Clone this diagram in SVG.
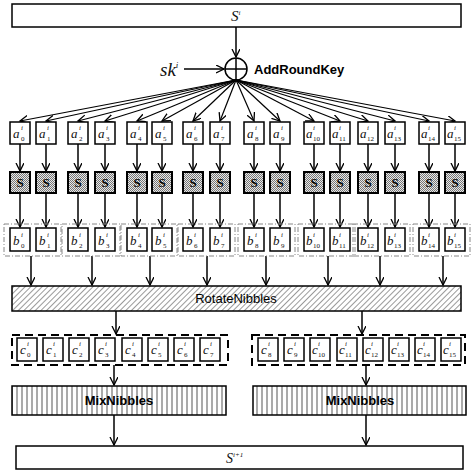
<svg xmlns="http://www.w3.org/2000/svg" width="474" height="474" viewBox="0 0 474 474">
<style>
.box{fill:#fff;stroke:#000;stroke-width:1.5}
.sbox{fill:url(#checker);stroke:#000;stroke-width:2}
.ln{stroke:#000;stroke-width:1.5;fill:none}
.fan{stroke:#000;stroke-width:1.2;fill:none}
.var{font-family:"Liberation Serif",serif;font-style:italic;font-size:13px;fill:#111}
.sup{font-family:"Liberation Serif",serif;font-style:italic;font-size:7px;fill:#111}
.sub{font-family:"Liberation Serif",serif;font-size:7px;fill:#111}
.st{font-family:"Liberation Serif",serif;font-weight:bold;font-size:13px;text-anchor:middle;fill:#000}
.grp{fill:none;stroke:#888;stroke-width:1;stroke-dasharray:5 2 1 2}
.cgrp{fill:none;stroke:#000;stroke-width:2;stroke-dasharray:8 5}
.bold{font-family:"Liberation Sans",Arial,sans-serif;font-weight:bold;font-size:13px}
</style>
<defs>
<pattern id="checker" width="2" height="2" patternUnits="userSpaceOnUse">
<rect width="2" height="2" fill="#e8e8e8"/>
<rect width="1" height="1" fill="#777"/>
<rect x="1" y="1" width="1" height="1" fill="#777"/>
</pattern>
<pattern id="diag" width="4" height="4" patternUnits="userSpaceOnUse" patternTransform="rotate(45)">
<rect width="4" height="4" fill="#fff"/>
<line x1="0" y1="0" x2="0" y2="4" stroke="#555" stroke-width="1.2"/>
</pattern>
<pattern id="vert" width="5" height="10" patternUnits="userSpaceOnUse">
<rect width="5" height="10" fill="#fff"/>
<line x1="2" y1="0" x2="2" y2="10" stroke="#555" stroke-width="1"/>
</pattern>
<marker id="ah" markerWidth="10" markerHeight="10" refX="8" refY="4" orient="auto" markerUnits="userSpaceOnUse">
<path d="M0,0 L8,4 L0,8" fill="none" stroke="#000" stroke-width="1.3"/>
</marker>
</defs>

<g id="Si">
<rect x="12" y="4" width="449" height="23" class="box"/>
<text x="231" y="21" class="var" style="font-size:15px">S<tspan class="sup" dy="-6">i</tspan></text>
</g>

<g id="xor">
<circle cx="236" cy="69" r="11" class="box"/>
<line x1="225" y1="69" x2="247" y2="69" class="ln"/>
<line x1="236" y1="58" x2="236" y2="80" class="ln"/>
</g>
<g id="ski">
<text x="160" y="76" class="var" style="font-size:19px">sk<tspan style="font-size:9px" dy="-8">i</tspan></text>
</g>
<g id="addroundkey"><text x="254" y="74" class="bold">AddRoundKey</text></g>

<g id="connectors">
<line x1="236" y1="27" x2="236" y2="57" class="ln" marker-end="url(#ah)"/>
<line x1="184" y1="69" x2="224" y2="69" class="ln" marker-end="url(#ah)"/>
<line x1="236" y1="80" x2="20" y2="121" class="fan" marker-end="url(#ah)"/>
<line x1="236" y1="80" x2="46" y2="121" class="fan" marker-end="url(#ah)"/>
<line x1="236" y1="80" x2="78" y2="121" class="fan" marker-end="url(#ah)"/>
<line x1="236" y1="80" x2="105" y2="121" class="fan" marker-end="url(#ah)"/>
<line x1="236" y1="80" x2="137" y2="121" class="fan" marker-end="url(#ah)"/>
<line x1="236" y1="80" x2="162" y2="121" class="fan" marker-end="url(#ah)"/>
<line x1="236" y1="80" x2="193" y2="121" class="fan" marker-end="url(#ah)"/>
<line x1="236" y1="80" x2="220" y2="121" class="fan" marker-end="url(#ah)"/>
<line x1="236" y1="80" x2="254" y2="121" class="fan" marker-end="url(#ah)"/>
<line x1="236" y1="80" x2="280" y2="121" class="fan" marker-end="url(#ah)"/>
<line x1="236" y1="80" x2="314" y2="121" class="fan" marker-end="url(#ah)"/>
<line x1="236" y1="80" x2="340" y2="121" class="fan" marker-end="url(#ah)"/>
<line x1="236" y1="80" x2="368" y2="121" class="fan" marker-end="url(#ah)"/>
<line x1="236" y1="80" x2="395" y2="121" class="fan" marker-end="url(#ah)"/>
<line x1="236" y1="80" x2="429" y2="121" class="fan" marker-end="url(#ah)"/>
<line x1="236" y1="80" x2="455" y2="121" class="fan" marker-end="url(#ah)"/>
<g class="ln" marker-end="url(#ah)">
<line x1="20" y1="144" x2="20" y2="171"/><line x1="20" y1="193" x2="20" y2="227"/>
<line x1="46" y1="144" x2="46" y2="171"/><line x1="46" y1="193" x2="46" y2="227"/>
<line x1="78" y1="144" x2="78" y2="171"/><line x1="78" y1="193" x2="78" y2="227"/>
<line x1="105" y1="144" x2="105" y2="171"/><line x1="105" y1="193" x2="105" y2="227"/>
<line x1="137" y1="144" x2="137" y2="171"/><line x1="137" y1="193" x2="137" y2="227"/>
<line x1="162" y1="144" x2="162" y2="171"/><line x1="162" y1="193" x2="162" y2="227"/>
<line x1="193" y1="144" x2="193" y2="171"/><line x1="193" y1="193" x2="193" y2="227"/>
<line x1="220" y1="144" x2="220" y2="171"/><line x1="220" y1="193" x2="220" y2="227"/>
<line x1="254" y1="144" x2="254" y2="171"/><line x1="254" y1="193" x2="254" y2="227"/>
<line x1="280" y1="144" x2="280" y2="171"/><line x1="280" y1="193" x2="280" y2="227"/>
<line x1="314" y1="144" x2="314" y2="171"/><line x1="314" y1="193" x2="314" y2="227"/>
<line x1="340" y1="144" x2="340" y2="171"/><line x1="340" y1="193" x2="340" y2="227"/>
<line x1="368" y1="144" x2="368" y2="171"/><line x1="368" y1="193" x2="368" y2="227"/>
<line x1="395" y1="144" x2="395" y2="171"/><line x1="395" y1="193" x2="395" y2="227"/>
<line x1="429" y1="144" x2="429" y2="171"/><line x1="429" y1="193" x2="429" y2="227"/>
<line x1="455" y1="144" x2="455" y2="171"/><line x1="455" y1="193" x2="455" y2="227"/>
<line x1="31" y1="256" x2="31" y2="285"/>
<line x1="92" y1="256" x2="92" y2="285"/>
<line x1="150" y1="256" x2="150" y2="285"/>
<line x1="207" y1="256" x2="207" y2="285"/>
<line x1="266" y1="256" x2="266" y2="285"/>
<line x1="328" y1="256" x2="328" y2="285"/>
<line x1="380" y1="256" x2="380" y2="285"/>
<line x1="443" y1="256" x2="443" y2="285"/>
<line x1="116" y1="311" x2="116" y2="334"/>
<line x1="362" y1="311" x2="362" y2="334"/>
<line x1="114" y1="365" x2="114" y2="385"/>
<line x1="366" y1="365" x2="366" y2="385"/>
<line x1="114" y1="415" x2="114" y2="445"/>
<line x1="366" y1="415" x2="366" y2="445"/>
</g>
</g>

<g id="a0"><rect x="10" y="122" width="20" height="22" class="box"/><text x="13" y="138" class="var">a</text><text x="21" y="130" class="sup">i</text><text x="21" y="141" class="sub">0</text></g>
<g id="a1"><rect x="36" y="122" width="20" height="22" class="box"/><text x="39" y="138" class="var">a</text><text x="47" y="130" class="sup">i</text><text x="47" y="141" class="sub">1</text></g>
<g id="a2"><rect x="68" y="122" width="20" height="22" class="box"/><text x="71" y="138" class="var">a</text><text x="79" y="130" class="sup">i</text><text x="79" y="141" class="sub">2</text></g>
<g id="a3"><rect x="95" y="122" width="20" height="22" class="box"/><text x="98" y="138" class="var">a</text><text x="106" y="130" class="sup">i</text><text x="106" y="141" class="sub">3</text></g>
<g id="a4"><rect x="127" y="122" width="20" height="22" class="box"/><text x="130" y="138" class="var">a</text><text x="138" y="130" class="sup">i</text><text x="138" y="141" class="sub">4</text></g>
<g id="a5"><rect x="152" y="122" width="20" height="22" class="box"/><text x="155" y="138" class="var">a</text><text x="163" y="130" class="sup">i</text><text x="163" y="141" class="sub">5</text></g>
<g id="a6"><rect x="183" y="122" width="20" height="22" class="box"/><text x="186" y="138" class="var">a</text><text x="194" y="130" class="sup">i</text><text x="194" y="141" class="sub">6</text></g>
<g id="a7"><rect x="210" y="122" width="20" height="22" class="box"/><text x="213" y="138" class="var">a</text><text x="221" y="130" class="sup">i</text><text x="221" y="141" class="sub">7</text></g>
<g id="a8"><rect x="244" y="122" width="20" height="22" class="box"/><text x="247" y="138" class="var">a</text><text x="255" y="130" class="sup">i</text><text x="255" y="141" class="sub">8</text></g>
<g id="a9"><rect x="270" y="122" width="20" height="22" class="box"/><text x="273" y="138" class="var">a</text><text x="281" y="130" class="sup">i</text><text x="281" y="141" class="sub">9</text></g>
<g id="a10"><rect x="304" y="122" width="20" height="22" class="box"/><text x="306" y="138" class="var">a</text><text x="313" y="130" class="sup">i</text><text x="313" y="141" class="sub">10</text></g>
<g id="a11"><rect x="330" y="122" width="20" height="22" class="box"/><text x="332" y="138" class="var">a</text><text x="339" y="130" class="sup">i</text><text x="339" y="141" class="sub">11</text></g>
<g id="a12"><rect x="358" y="122" width="20" height="22" class="box"/><text x="360" y="138" class="var">a</text><text x="367" y="130" class="sup">i</text><text x="367" y="141" class="sub">12</text></g>
<g id="a13"><rect x="385" y="122" width="20" height="22" class="box"/><text x="387" y="138" class="var">a</text><text x="394" y="130" class="sup">i</text><text x="394" y="141" class="sub">13</text></g>
<g id="a14"><rect x="419" y="122" width="20" height="22" class="box"/><text x="421" y="138" class="var">a</text><text x="428" y="130" class="sup">i</text><text x="428" y="141" class="sub">14</text></g>
<g id="a15"><rect x="445" y="122" width="20" height="22" class="box"/><text x="447" y="138" class="var">a</text><text x="454" y="130" class="sup">i</text><text x="454" y="141" class="sub">15</text></g>

<g id="s0"><rect x="10" y="172" width="20" height="21" class="sbox"/><text x="20" y="187" class="st">S</text></g>
<g id="s1"><rect x="36" y="172" width="20" height="21" class="sbox"/><text x="46" y="187" class="st">S</text></g>
<g id="s2"><rect x="68" y="172" width="20" height="21" class="sbox"/><text x="78" y="187" class="st">S</text></g>
<g id="s3"><rect x="95" y="172" width="20" height="21" class="sbox"/><text x="105" y="187" class="st">S</text></g>
<g id="s4"><rect x="127" y="172" width="20" height="21" class="sbox"/><text x="137" y="187" class="st">S</text></g>
<g id="s5"><rect x="152" y="172" width="20" height="21" class="sbox"/><text x="162" y="187" class="st">S</text></g>
<g id="s6"><rect x="183" y="172" width="20" height="21" class="sbox"/><text x="193" y="187" class="st">S</text></g>
<g id="s7"><rect x="210" y="172" width="20" height="21" class="sbox"/><text x="220" y="187" class="st">S</text></g>
<g id="s8"><rect x="244" y="172" width="20" height="21" class="sbox"/><text x="254" y="187" class="st">S</text></g>
<g id="s9"><rect x="270" y="172" width="20" height="21" class="sbox"/><text x="280" y="187" class="st">S</text></g>
<g id="s10"><rect x="304" y="172" width="20" height="21" class="sbox"/><text x="314" y="187" class="st">S</text></g>
<g id="s11"><rect x="330" y="172" width="20" height="21" class="sbox"/><text x="340" y="187" class="st">S</text></g>
<g id="s12"><rect x="358" y="172" width="20" height="21" class="sbox"/><text x="368" y="187" class="st">S</text></g>
<g id="s13"><rect x="385" y="172" width="20" height="21" class="sbox"/><text x="395" y="187" class="st">S</text></g>
<g id="s14"><rect x="419" y="172" width="20" height="21" class="sbox"/><text x="429" y="187" class="st">S</text></g>
<g id="s15"><rect x="445" y="172" width="20" height="21" class="sbox"/><text x="455" y="187" class="st">S</text></g>

<g id="bgroups">
<rect x="4" y="224" width="57" height="32" class="grp"/>
<rect x="62" y="224" width="58" height="32" class="grp"/>
<rect x="121" y="224" width="56" height="32" class="grp"/>
<rect x="178" y="224" width="57" height="32" class="grp"/>
<rect x="238" y="224" width="57" height="32" class="grp"/>
<rect x="298" y="224" width="57" height="32" class="grp"/>
<rect x="353" y="224" width="57" height="32" class="grp"/>
<rect x="413" y="224" width="57" height="32" class="grp"/>
</g>
<g id="b0"><rect x="10" y="228" width="20" height="23" class="box"/><text x="13" y="245" class="var">b</text><text x="21" y="237" class="sup">i</text><text x="21" y="248" class="sub">0</text></g>
<g id="b1"><rect x="36" y="228" width="20" height="23" class="box"/><text x="39" y="245" class="var">b</text><text x="47" y="237" class="sup">i</text><text x="47" y="248" class="sub">1</text></g>
<g id="b2"><rect x="68" y="228" width="20" height="23" class="box"/><text x="71" y="245" class="var">b</text><text x="79" y="237" class="sup">i</text><text x="79" y="248" class="sub">2</text></g>
<g id="b3"><rect x="95" y="228" width="20" height="23" class="box"/><text x="98" y="245" class="var">b</text><text x="106" y="237" class="sup">i</text><text x="106" y="248" class="sub">3</text></g>
<g id="b4"><rect x="127" y="228" width="20" height="23" class="box"/><text x="130" y="245" class="var">b</text><text x="138" y="237" class="sup">i</text><text x="138" y="248" class="sub">4</text></g>
<g id="b5"><rect x="152" y="228" width="20" height="23" class="box"/><text x="155" y="245" class="var">b</text><text x="163" y="237" class="sup">i</text><text x="163" y="248" class="sub">5</text></g>
<g id="b6"><rect x="183" y="228" width="20" height="23" class="box"/><text x="186" y="245" class="var">b</text><text x="194" y="237" class="sup">i</text><text x="194" y="248" class="sub">6</text></g>
<g id="b7"><rect x="210" y="228" width="20" height="23" class="box"/><text x="213" y="245" class="var">b</text><text x="221" y="237" class="sup">i</text><text x="221" y="248" class="sub">7</text></g>
<g id="b8"><rect x="244" y="228" width="20" height="23" class="box"/><text x="247" y="245" class="var">b</text><text x="255" y="237" class="sup">i</text><text x="255" y="248" class="sub">8</text></g>
<g id="b9"><rect x="270" y="228" width="20" height="23" class="box"/><text x="273" y="245" class="var">b</text><text x="281" y="237" class="sup">i</text><text x="281" y="248" class="sub">9</text></g>
<g id="b10"><rect x="304" y="228" width="20" height="23" class="box"/><text x="306" y="245" class="var">b</text><text x="313" y="237" class="sup">i</text><text x="313" y="248" class="sub">10</text></g>
<g id="b11"><rect x="330" y="228" width="20" height="23" class="box"/><text x="332" y="245" class="var">b</text><text x="339" y="237" class="sup">i</text><text x="339" y="248" class="sub">11</text></g>
<g id="b12"><rect x="358" y="228" width="20" height="23" class="box"/><text x="360" y="245" class="var">b</text><text x="367" y="237" class="sup">i</text><text x="367" y="248" class="sub">12</text></g>
<g id="b13"><rect x="385" y="228" width="20" height="23" class="box"/><text x="387" y="245" class="var">b</text><text x="394" y="237" class="sup">i</text><text x="394" y="248" class="sub">13</text></g>
<g id="b14"><rect x="419" y="228" width="20" height="23" class="box"/><text x="421" y="245" class="var">b</text><text x="428" y="237" class="sup">i</text><text x="428" y="248" class="sub">14</text></g>
<g id="b15"><rect x="445" y="228" width="20" height="23" class="box"/><text x="447" y="245" class="var">b</text><text x="454" y="237" class="sup">i</text><text x="454" y="248" class="sub">15</text></g>

<g id="rotatenibbles">
<rect x="12" y="286" width="449" height="25" fill="url(#diag)" stroke="#000" stroke-width="1.5"/>
<text x="236" y="303" font-family="Liberation Sans,Arial,sans-serif" font-size="13" text-anchor="middle" fill="#000">RotateNibbles</text>
</g>

<g id="cgroups">
<rect x="12" y="335" width="216" height="30" class="cgrp"/>
<rect x="252" y="335" width="213" height="30" class="cgrp"/>
</g>
<g id="c0"><rect x="17" y="338" width="20" height="23" class="box"/><text x="20" y="354" class="var">c</text><text x="27" y="346" class="sup">i</text><text x="27" y="357" class="sub">0</text></g>
<g id="c1"><rect x="43" y="338" width="20" height="23" class="box"/><text x="46" y="354" class="var">c</text><text x="53" y="346" class="sup">i</text><text x="53" y="357" class="sub">1</text></g>
<g id="c2"><rect x="69" y="338" width="20" height="23" class="box"/><text x="72" y="354" class="var">c</text><text x="79" y="346" class="sup">i</text><text x="79" y="357" class="sub">2</text></g>
<g id="c3"><rect x="95" y="338" width="20" height="23" class="box"/><text x="98" y="354" class="var">c</text><text x="105" y="346" class="sup">i</text><text x="105" y="357" class="sub">3</text></g>
<g id="c4"><rect x="122" y="338" width="20" height="23" class="box"/><text x="125" y="354" class="var">c</text><text x="132" y="346" class="sup">i</text><text x="132" y="357" class="sub">4</text></g>
<g id="c5"><rect x="148" y="338" width="20" height="23" class="box"/><text x="151" y="354" class="var">c</text><text x="158" y="346" class="sup">i</text><text x="158" y="357" class="sub">5</text></g>
<g id="c6"><rect x="174" y="338" width="20" height="23" class="box"/><text x="177" y="354" class="var">c</text><text x="184" y="346" class="sup">i</text><text x="184" y="357" class="sub">6</text></g>
<g id="c7"><rect x="200" y="338" width="20" height="23" class="box"/><text x="203" y="354" class="var">c</text><text x="210" y="346" class="sup">i</text><text x="210" y="357" class="sub">7</text></g>
<g id="c8"><rect x="258" y="338" width="20" height="23" class="box"/><text x="261" y="354" class="var">c</text><text x="268" y="346" class="sup">i</text><text x="268" y="357" class="sub">8</text></g>
<g id="c9"><rect x="284" y="338" width="20" height="23" class="box"/><text x="287" y="354" class="var">c</text><text x="294" y="346" class="sup">i</text><text x="294" y="357" class="sub">9</text></g>
<g id="c10"><rect x="310" y="338" width="20" height="23" class="box"/><text x="312" y="354" class="var">c</text><text x="318" y="346" class="sup">i</text><text x="318" y="357" class="sub">10</text></g>
<g id="c11"><rect x="337" y="338" width="20" height="23" class="box"/><text x="339" y="354" class="var">c</text><text x="345" y="346" class="sup">i</text><text x="345" y="357" class="sub">11</text></g>
<g id="c12"><rect x="363" y="338" width="20" height="23" class="box"/><text x="365" y="354" class="var">c</text><text x="371" y="346" class="sup">i</text><text x="371" y="357" class="sub">12</text></g>
<g id="c13"><rect x="389" y="338" width="20" height="23" class="box"/><text x="391" y="354" class="var">c</text><text x="397" y="346" class="sup">i</text><text x="397" y="357" class="sub">13</text></g>
<g id="c14"><rect x="415" y="338" width="20" height="23" class="box"/><text x="417" y="354" class="var">c</text><text x="423" y="346" class="sup">i</text><text x="423" y="357" class="sub">14</text></g>
<g id="c15"><rect x="441" y="338" width="20" height="23" class="box"/><text x="443" y="354" class="var">c</text><text x="449" y="346" class="sup">i</text><text x="449" y="357" class="sub">15</text></g>

<g id="mix1">
<rect x="12" y="386" width="214" height="29" fill="url(#vert)" stroke="#000" stroke-width="1.5"/>
<text x="119" y="405" class="bold" text-anchor="middle">MixNibbles</text>
</g>
<g id="mix2">
<rect x="253" y="386" width="213" height="29" fill="url(#vert)" stroke="#000" stroke-width="1.5"/>
<text x="360" y="405" class="bold" text-anchor="middle">MixNibbles</text>
</g>

<g id="Si1">
<rect x="16" y="446" width="447" height="23" class="box"/>
<text x="226" y="463" class="var" style="font-size:14px">S<tspan class="sup" dy="-6">i+1</tspan></text>
</g>
</svg>
